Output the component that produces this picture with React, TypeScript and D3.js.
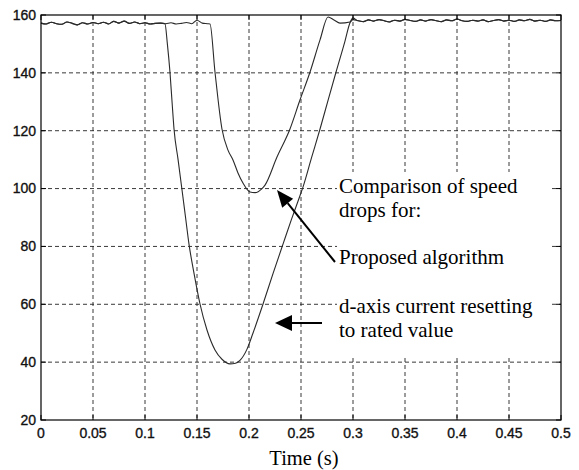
import React from "react";
import * as d3 from "d3";

// axis ticks
const xTicks = [0, 0.05, 0.1, 0.15, 0.2, 0.25, 0.3, 0.35, 0.4, 0.45, 0.5];
const yTicks = [20, 40, 60, 80, 100, 120, 140, 160];

// steady speed before the load step, sampled every 5 ms from t = 0
const baseLeftV = [
	157.2, 156.9, 157.5, 157.0, 156.8, 157.6, 157.1, 156.6, 157.3, 156.9,
	157.4, 157.0, 157.5, 156.9, 157.8, 157.2, 157.9, 157.1, 157.6, 157.0,
	157.3, 156.9, 157.1, 157.2, 157.0, 157.3, 156.9, 157.1, 157.4, 157.0,
	158.2, 157.2, 157.0,
];
// steady speed after recovery, sampled every 5 ms from t = 0.3
const baseRightV = [
	158.4, 158.0, 157.7, 158.3, 157.9, 158.4, 158.0, 157.6, 158.2, 157.9,
	158.5, 158.1, 157.8, 158.3, 157.9, 158.4, 158.0, 157.7, 158.3, 158.0,
	158.6, 158.0, 157.8, 158.2, 157.9, 158.3, 157.7, 158.1, 158.4, 157.9,
	158.2, 157.8, 158.3, 158.0, 158.5, 157.9, 158.2, 157.8, 158.3, 158.0,
	158.1,
];

// d-axis current resetting to rated value  [t, speed]
const dropResetting: [number, number][] = [
	[0.1192, 157.0], [0.1215, 150], [0.124, 140.3], [0.126, 130], [0.1279, 120.6],
	[0.1318, 110], [0.1356, 99.5], [0.139, 90], [0.1423, 80.8], [0.1475, 70],
	[0.1529, 60.1], [0.1596, 51.1], [0.1673, 44.2], [0.174, 41], [0.1817, 39.4],
	[0.187, 39.6], [0.1913, 40.6], [0.1981, 44.5], [0.2038, 50], [0.2135, 60.1],
	[0.223, 70.5], [0.2327, 80.8], [0.241, 89.5], [0.249, 97.5], [0.2519, 100.5],
	[0.26, 110.5], [0.2683, 120.6], [0.276, 130.5], [0.2837, 140.3], [0.2923, 151],
	[0.2971, 157.3], [0.3, 159.0], [0.3048, 158.0],
];

// proposed algorithm  [t, speed]
const dropProposed: [number, number][] = [
	[0.1625, 156.9], [0.1673, 140.3], [0.174, 120.6], [0.1798, 113.3], [0.1846, 109.9],
	[0.1894, 105.4], [0.1942, 101.9], [0.201, 98.8], [0.2058, 98.6], [0.2125, 100.0],
	[0.2154, 101.2], [0.2269, 110.9], [0.2394, 120.6], [0.249, 130.6], [0.2587, 140.3],
	[0.2683, 151.4], [0.276, 159.3], [0.2817, 158.3], [0.2875, 157.2], [0.2971, 157.6],
];

const width = 579;
const height = 470;

const x = d3.scaleLinear().domain([0, 0.5]).range([41, 561]);
const y = d3.scaleLinear().domain([20, 160]).range([420, 15]);

const leftPts: [number, number][] = baseLeftV.map((v, i) => [i * 0.005, v]);
const rightPts: [number, number][] = baseRightV.map((v, i) => [0.3 + i * 0.005, v]);

function series(drop: [number, number][]) {
	const t0 = drop[0][0];
	const t1 = drop[drop.length - 1][0];
	return [
		...leftPts.filter(d => d[0] < t0),
		...drop,
		...rightPts.filter(d => d[0] > t1),
	];
}

const line = d3.line<[number, number]>()
	.x(d => x(d[0]))
	.y(d => y(d[1]))
	.curve(d3.curveMonotoneX);

const tickFont = { fontFamily: "Arial, 'Liberation Sans', sans-serif", fontSize: 14 };
const serif = { fontFamily: "'Times New Roman', 'Liberation Serif', serif", fontSize: 21 };

function Arrow({ x1, y1, x2, y2, len, half }: any) {
	// line from (x1,y1) with a filled head at (x2,y2)
	const a = Math.atan2(y2 - y1, x2 - x1);
	const bx = x2 - len * Math.cos(a);
	const by = y2 - len * Math.sin(a);
	const px = -Math.sin(a) * half;
	const py = Math.cos(a) * half;
	return (
		<g>
			<line x1={x1} y1={y1} x2={bx} y2={by} stroke="#000" strokeWidth={2} />
			<path d={`M${x2},${y2}L${bx + px},${by + py}L${bx - px},${by - py}Z`} fill="#000" />
		</g>
	);
}

export default function App() {
	const [x0, x1] = x.range();
	const [yb, yt] = y.range();
	return (
		<svg width={width} height={height} style={{ position: "absolute", left: 0, top: 0, background: "#fff" }}>
			<rect width={width} height={height} fill="#fff" />

			{/* dashed grid */}
			<g stroke="#222" strokeWidth={0.9} strokeDasharray="4,3">
				{xTicks.slice(1, -1).map(t => (
					<line key={"gx" + t} x1={x(t)} x2={x(t)} y1={yt} y2={yb} />
				))}
				{yTicks.slice(1, -1).map(v => (
					<line key={"gy" + v} x1={x0} x2={x1} y1={y(v)} y2={y(v)} />
				))}
			</g>

			{/* white box behind the annotation */}
			<rect x={337} y={172} width={212} height={183} fill="#fff" />

			{/* speed curves */}
			<g fill="none" stroke="#2a2a2a" strokeWidth={1.1}>
				<path d={line(series(dropResetting)) || ""} />
				<path d={line(series(dropProposed)) || ""} />
			</g>

			{/* frame and inner ticks */}
			<rect x={x0} y={yt} width={x1 - x0} height={yb - yt} fill="none" stroke="#000" strokeWidth={1.2} />
			<g stroke="#000" strokeWidth={1}>
				{xTicks.map(t => (
					<g key={"tx" + t}>
						<line x1={x(t)} x2={x(t)} y1={yb} y2={yb - 5} />
						<line x1={x(t)} x2={x(t)} y1={yt} y2={yt + 5} />
					</g>
				))}
				{yTicks.map(v => (
					<g key={"ty" + v}>
						<line x1={x0} x2={x0 + 5} y1={y(v)} y2={y(v)} />
						<line x1={x1} x2={x1 - 5} y1={y(v)} y2={y(v)} />
					</g>
				))}
			</g>

			{/* tick labels */}
			<g style={tickFont} fill="#111" stroke="#111" strokeWidth={0.35}>
				{yTicks.map(v => (
					<text key={"ly" + v} x={x0 - 5} y={y(v)} dy="0.35em" textAnchor="end">{v}</text>
				))}
				{xTicks.map(t => (
					<text key={"lx" + t} x={x(t)} y={yb + 18} textAnchor="middle">{String(t)}</text>
				))}
			</g>

			<text x={(x0 + x1) / 2 + 3} y={465} textAnchor="middle" style={{ ...serif, fontSize: 20.5 }} fill="#000">Time (s)</text>

			{/* annotation */}
			<g style={serif} fill="#000">
				<text x={339} y={193}>Comparison of speed</text>
				<text x={339} y={217}>drops for:</text>
				<text x={339} y={264}>Proposed algorithm</text>
				<text x={339} y={313}>d-axis current resetting</text>
				<text x={339} y={337}>to rated value</text>
			</g>
			<Arrow x1={335} y1={262} x2={277} y2={190} len={17} half={7} />
			<Arrow x1={322} y1={323} x2={275} y2={323} len={17} half={8} />
		</svg>
	);
}
